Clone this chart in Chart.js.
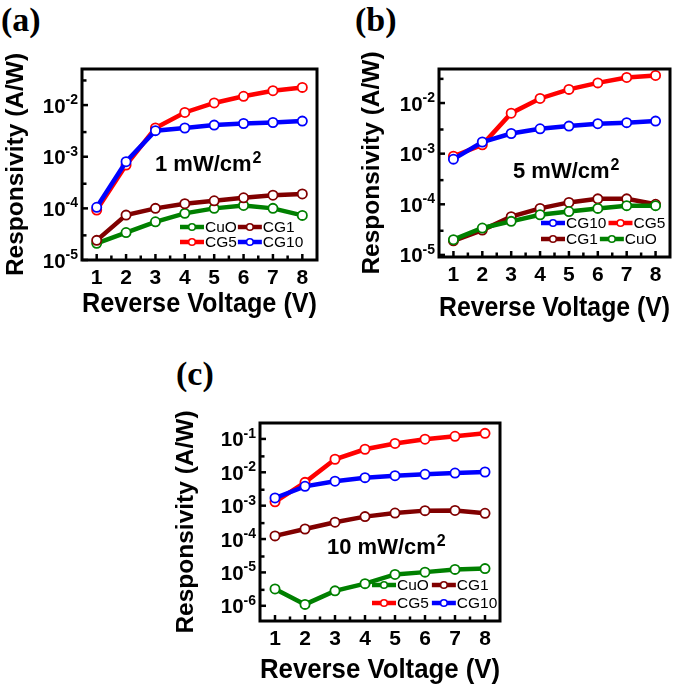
<!DOCTYPE html>
<html>
<head>
<meta charset="utf-8">
<script src="https://cdn.jsdelivr.net/npm/chart.js@4.4.1/dist/chart.umd.min.js"></script>
<style>
  body { margin: 0; background: #fff; }
  #wrap { position: relative; width: 685px; height: 688px; overflow: hidden; background: #fff; }
  canvas { position: absolute; }
  .tag { position: absolute; font: bold 34px "Liberation Serif", "Times New Roman", serif; line-height: 1; color: #000; }
</style>
</head>
<body>
<div id="wrap">
  <div class="tag" style="left:1px;top:3px">(a)</div>
  <div class="tag" style="left:355px;top:3px">(b)</div>
  <div class="tag" style="left:176px;top:357px">(c)</div>
  <canvas id="chartA" width="340" height="330" style="left:0;top:0"></canvas>
  <canvas id="chartB" width="345" height="330" style="left:340px;top:0"></canvas>
  <canvas id="chartC" width="350" height="348" style="left:170px;top:340px"></canvas>
</div>
<script>
// ---- data ----
var voltages = [1, 2, 3, 4, 5, 6, 7, 8];
var seriesNames = ['CuO', 'CG1', 'CG5', 'CG10'];
var seriesColors = ['#008000', '#800000', '#ff0000', '#0000ff'];

// (a) 1 mW/cm2
var cuoA  = [2.1e-5, 3.4e-5, 5.5e-5, 8.0e-5, 1.0e-4, 1.14e-4, 1.0e-4, 7.3e-5];
var cg1A  = [2.4e-5, 7.4e-5, 1.0e-4, 1.23e-4, 1.4e-4, 1.6e-4, 1.8e-4, 1.9e-4];
var cg5A  = [9.3e-5, 6.9e-4, 3.6e-3, 7.2e-3, 1.1e-2, 1.48e-2, 1.9e-2, 2.2e-2];
var cg10A = [1.05e-4, 8.0e-4, 3.2e-3, 3.6e-3, 4.1e-3, 4.4e-3, 4.6e-3, 4.9e-3];

// (b) 5 mW/cm2
var cuoB  = [2.0e-5, 3.4e-5, 4.6e-5, 6.2e-5, 7.2e-5, 8.3e-5, 9.4e-5, 9.4e-5];
var cg1B  = [1.9e-5, 3.1e-5, 5.7e-5, 8.3e-5, 1.09e-4, 1.28e-4, 1.28e-4, 1.0e-4];
var cg5B  = [8.9e-4, 1.5e-3, 6.3e-3, 1.23e-2, 1.86e-2, 2.5e-2, 3.2e-2, 3.5e-2];
var cg10B = [7.8e-4, 1.7e-3, 2.5e-3, 3.1e-3, 3.5e-3, 3.9e-3, 4.1e-3, 4.4e-3];

// (c) 10 mW/cm2
var cuoC  = [3.2e-6, 1.1e-6, 2.8e-6, 4.6e-6, 8.7e-6, 1.02e-5, 1.23e-5, 1.3e-5];
var cg1C  = [1.24e-4, 2.0e-4, 3.2e-4, 4.7e-4, 6.0e-4, 7.1e-4, 7.2e-4, 5.9e-4];
var cg5C  = [1.3e-3, 5.0e-3, 2.46e-2, 4.9e-2, 7.3e-2, 9.8e-2, 0.12, 0.147];
var cg10C = [1.7e-3, 3.8e-3, 5.4e-3, 6.9e-3, 7.9e-3, 8.7e-3, 9.5e-3, 1.02e-2];

// y tick labels (decades)
var decadesAB = [1e-5, 1e-4, 1e-3, 1e-2];
var decadesC  = [1e-6, 1e-5, 1e-4, 1e-3, 1e-2, 1e-1];

var FONT = '"Liberation Sans", Arial, Helvetica, sans-serif';

// box round the plot with inward ticks, and 10^n labels with a real raised exponent
var framePlugin = {
    id: 'frame',
    afterDraw: function (chart) {
        var ctx = chart.ctx, a = chart.chartArea;
        var xs = chart.scales.x, ys = chart.scales.y;
        ctx.save();
        ctx.strokeStyle = '#000';
        ctx.lineWidth = 2.5;
        xs.ticks.forEach(function (t, i) {
            var px = xs.getPixelForTick(i);
            ctx.beginPath(); ctx.moveTo(px, a.bottom); ctx.lineTo(px, a.bottom - 6); ctx.stroke();
            if (i < xs.ticks.length - 1) {
                var mx = (px + xs.getPixelForTick(i + 1)) / 2;
                ctx.beginPath(); ctx.moveTo(mx, a.bottom); ctx.lineTo(mx, a.bottom - 4.5); ctx.stroke();
            }
        });
        ys.ticks.forEach(function (t) {
            var py = ys.getPixelForValue(t.value);
            ctx.beginPath(); ctx.moveTo(a.left, py); ctx.lineTo(a.left + 6, py); ctx.stroke();
            var my = ys.getPixelForValue(t.value * 3);
            if (my > a.top) {
                ctx.beginPath(); ctx.moveTo(a.left, my); ctx.lineTo(a.left + 4.5, my); ctx.stroke();
            }
        });
        var below = ys.getPixelForValue(ys.ticks[0].value / 3.33);
        if (below < a.bottom) {
            ctx.beginPath(); ctx.moveTo(a.left, below); ctx.lineTo(a.left + 4.5, below); ctx.stroke();
        }
        ctx.lineWidth = 3;
        ctx.strokeRect(a.left, a.top, a.right - a.left, a.bottom - a.top);

        // y tick labels
        ctx.fillStyle = '#000';
        ctx.textBaseline = 'alphabetic';
        ctx.textAlign = 'right';
        ys.ticks.forEach(function (t) {
            var py = ys.getPixelForValue(t.value);
            var ex = String(Math.round(Math.log10(t.value)));
            var right = a.left - 4;
            ctx.font = 'bold 14px ' + FONT;
            var ew = ctx.measureText(ex).width;
            ctx.fillText(ex, right, py - 1);
            ctx.font = 'bold 20.5px ' + FONT;
            ctx.fillText('10', right - ew, py + 7.5);
        });
        ctx.restore();
    }
};

// two-row legend inside the plot
var rowLegendPlugin = {
    id: 'rowLegend',
    afterDraw: function (chart, args, opts) {
        var ctx = chart.ctx, a = chart.chartArea;
        ctx.save();
        ctx.font = '15.5px ' + FONT;
        ctx.textBaseline = 'middle';
        ctx.textAlign = 'left';
        opts.rows.forEach(function (row, r) {
            var x = a.left + opts.x;
            var y = a.top + opts.y[r];
            row.forEach(function (idx) {
                var ds = chart.data.datasets[idx];
                ctx.strokeStyle = ds.borderColor;
                ctx.lineWidth = 4.5;
                ctx.beginPath(); ctx.moveTo(x, y); ctx.lineTo(x + 24, y); ctx.stroke();
                ctx.fillStyle = '#fff';
                ctx.lineWidth = 1.6;
                ctx.beginPath(); ctx.arc(x + 12, y, 3.3, 0, Math.PI * 2); ctx.fill(); ctx.stroke();
                ctx.fillStyle = '#000';
                ctx.fillText(ds.label, x + 25, y + 1);
                x += 25 + ctx.measureText(ds.label).width + opts.gap;
            });
        });
        ctx.restore();
    }
};

// light intensity note with superscript
var notePlugin = {
    id: 'note',
    afterDraw: function (chart, args, opts) {
        var ctx = chart.ctx, a = chart.chartArea;
        var x = a.left + opts.x, y = a.top + opts.y;
        ctx.save();
        ctx.fillStyle = '#000';
        ctx.textBaseline = 'alphabetic';
        ctx.textAlign = 'left';
        ctx.font = 'bold 22px ' + FONT;
        ctx.fillText(opts.text, x, y + 7.5);
        var w = ctx.measureText(opts.text).width;
        ctx.font = 'bold 16px ' + FONT;
        ctx.fillText('2', x + w + 1, y);
        ctx.restore();
    }
};

function makePanel(id, p) {
    var datasets = p.series.map(function (vals, i) {
        return {
            label: seriesNames[i],
            data: vals,
            borderColor: seriesColors[i],
            backgroundColor: '#fff',
            pointBackgroundColor: '#fff',
            pointBorderColor: seriesColors[i],
            borderWidth: 4.5,
            pointRadius: 4.6,
            pointBorderWidth: 1.8,
            tension: 0,
            order: p.order[i]
        };
    });
    new Chart(document.getElementById(id), {
        type: 'line',
        data: { labels: voltages, datasets: datasets },
        options: {
            responsive: false,
            animation: false,
            events: [],
            layout: { padding: { left: 0, top: p.top, right: p.right, bottom: 0 } },
            plugins: {
                legend: { display: false },
                tooltip: { enabled: false },
                rowLegend: p.legend,
                note: p.note
            },
            scales: {
                x: {
                    type: 'category',
                    offset: true,
                    grid: { display: false, drawTicks: false },
                    border: { display: false },
                    ticks: { color: '#000', font: { family: FONT, size: 21, weight: 'bold' }, padding: 6, maxRotation: 0 },
                    title: {
                        display: true, text: 'Reverse Voltage (V)', color: '#000',
                        font: { family: FONT, size: 28, weight: 'bold' },
                        padding: { top: 0, bottom: p.xTitlePad }
                    },
                    afterFit: function (s) { s.height = p.xH; }
                },
                y: {
                    type: 'logarithmic',
                    min: p.ymin,
                    max: p.ymax,
                    grid: { display: false, drawTicks: false },
                    border: { display: false },
                    afterBuildTicks: function (s) {
                        s.ticks = p.decades.map(function (v) { return { value: v }; });
                    },
                    ticks: { display: false },
                    title: {
                        display: true, text: 'Responsivity (A/W)', color: '#000',
                        font: { family: FONT, size: 24.5, weight: 'bold' },
                        padding: { top: p.yTitlePad, bottom: 0 }
                    },
                    afterFit: function (s) { s.width = p.yW; }
                }
            }
        },
        plugins: [framePlugin, rowLegendPlugin, notePlugin]
    });
}

makePanel('chartA', {
    series: [cuoA, cg1A, cg5A, cg10A],
    order: [3, 2, 1, 0],
    decades: decadesAB, ymin: 1e-5, ymax: 0.05,
    top: 69, right: 23, xH: 70, yW: 82,
    xTitlePad: 9, yTitlePad: 2,
    legend: { rows: [[0, 1], [2, 3]], x: 98, y: [158, 173], gap: 1 },
    note: { text: '1 mW/cm', x: 73, y: 94 }
});

makePanel('chartB', {
    series: [cuoB, cg1B, cg5B, cg10B],
    order: [2, 3, 1, 0],
    decades: decadesAB, ymin: 9.1e-6, ymax: 0.047,
    top: 69, right: 15, xH: 73, yW: 99,
    xTitlePad: 5, yTitlePad: 18,
    legend: { rows: [[3, 2], [1, 0]], x: 102, y: [154, 170], gap: 2 },
    note: { text: '5 mW/cm', x: 74, y: 101 }
});

makePanel('chartC', {
    series: [cuoC, cg1C, cg5C, cg10C],
    order: [3, 2, 1, 0],
    decades: decadesC, ymin: 3.5e-7, ymax: 0.3,
    top: 83, right: 20, xH: 67, yW: 90,
    xTitlePad: 1, yTitlePad: 2,
    legend: { rows: [[0, 1], [2, 3]], x: 112, y: [162, 180], gap: 3 },
    note: { text: '10 mW/cm', x: 67, y: 123 }
});
</script>
</body>
</html>
